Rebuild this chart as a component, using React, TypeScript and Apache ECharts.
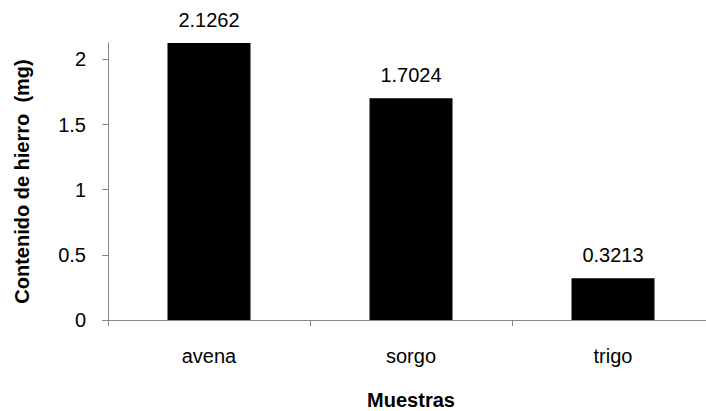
import React, { useEffect, useRef } from "react";
import * as echarts from "echarts";

const categories = ["avena", "sorgo", "trigo"];
const values = [2.1262, 1.7024, 0.3213];
const yTicks = [0, 0.5, 1, 1.5, 2];
const yAxisName = "Contenido de hierro  (mg)";
const xAxisName = "Muestras";

const FONT = "'Liberation Sans', Arial, sans-serif";

export default function App() {
  const ref = useRef<HTMLDivElement>(null);
  useEffect(() => {
    document.body.style.margin = "0";
    const chart = echarts.init(ref.current!, null, { renderer: "svg" });
    chart.setOption({
      animation: false,
      backgroundColor: "#ffffff",
      textStyle: { fontFamily: FONT },
      grid: { left: 108, right: -8, top: 43, bottom: 91, outerBoundsMode: "none", containLabel: false },
      xAxis: {
        type: "category",
        data: categories,
        name: xAxisName,
        nameLocation: "middle",
        nameGap: 70,
        nameTextStyle: { fontFamily: FONT, fontSize: 20, fontWeight: "bold", color: "#000" },
        axisLine: { lineStyle: { color: "#868686", width: 1 } },
        axisTick: { show: true, length: 6, lineStyle: { color: "#868686" } },
        axisLabel: { margin: 26, fontFamily: FONT, fontSize: 20, color: "#000" },
      },
      yAxis: {
        type: "value",
        min: 0,
        max: 2.1262,
        interval: 0.5,
        name: yAxisName,
        nameLocation: "middle",
        nameGap: 76,
        nameTextStyle: { fontFamily: FONT, fontSize: 20, fontWeight: "bold", color: "#000" },
        splitLine: { show: false },
        axisLine: { show: true, lineStyle: { color: "#868686", width: 1 } },
        axisTick: { show: true, length: 6, lineStyle: { color: "#868686" }, customValues: yTicks },
        axisLabel: { margin: 22, fontFamily: FONT, fontSize: 20, color: "#000", customValues: yTicks },
      },
      series: [
        {
          type: "bar",
          data: values,
          barWidth: 83,
          itemStyle: { color: "#000000" },
          label: {
            show: true,
            position: "top",
            distance: 13,
            fontFamily: FONT,
            fontSize: 20,
            color: "#000",
            formatter: (p: any) => String(p.value),
          },
        },
      ],
    });
    return () => chart.dispose();
  }, []);
  return <div ref={ref} style={{ position: "fixed", left: 0, top: 0, width: 706, height: 411 }} />;
}
